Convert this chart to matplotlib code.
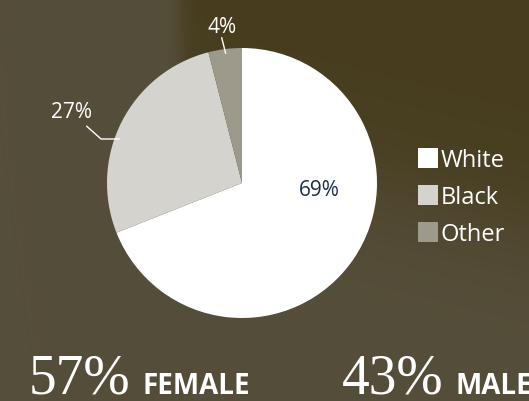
import numpy as np
import matplotlib.pyplot as plt
from matplotlib.lines import Line2D

# --- Data ---
groups = ['White', 'Black', 'Other']
shares = [69, 27, 4]
colors = ['#ffffff', '#d4d3ce', '#9d998b']
gender_pct = [57, 43]
gender_labels = ['FEMALE', 'MALE']

# label layout (pie units, y up)
label_pos = {'White': (0.57, -0.05), 'Black': (-1.26, 0.53), 'Other': (-0.15, 1.16)}

W, H = 529, 402
fig = plt.figure(figsize=(W / 100, H / 100), dpi=100)

# --- Background: olive texture, darker patch top-right ---
yy, xx = np.mgrid[0:H, 0:W]
base = np.array([85, 78, 58]) / 255
dark = np.array([71, 61, 30]) / 255
mask = 1 / (1 + np.exp(-(xx - 180) / 5))
mask *= 1 / (1 + np.exp((yy - 140 - 0.25 * (xx - 180)) / 35))
bg = base[None, None, :] * (1 - mask[..., None]) + dark[None, None, :] * mask[..., None]
bax = fig.add_axes([0, 0, 1, 1])
bax.imshow(bg, aspect='auto', extent=(0, W, H, 0))
bax.axis('off')

# --- Pie ---
R = 135
cx, cy = 242, 184
half = 200
ax = fig.add_axes([(cx - half) / W, (H - cy - half) / H, 2 * half / W, 2 * half / H])
wedges, _ = ax.pie(shares, colors=colors, startangle=90, counterclock=False,
                   wedgeprops=dict(linewidth=0))
lim = half / R
ax.set_xlim(-lim, lim)
ax.set_ylim(-lim, lim)
ax.axis('off')

lab_font = dict(family='Open Sans', fontsize=15)
for g, v, w in zip(groups, shares, wedges):
    tx, ty = label_pos[g]
    col = '#1b2d4f' if g == 'White' else 'white'
    ax.text(tx, ty, f'{v}%', color=col, ha='center', va='center', **lab_font)
    if g == 'Other':
        ang = np.deg2rad((w.theta1 + w.theta2) / 2)
        ex, ey = 0.97 * np.cos(ang), 0.97 * np.sin(ang)
        ax.plot([tx, ex], [ty - 0.085, ey], color='white', lw=1, clip_on=False)
    elif g == 'Black':
        ex, ey = -0.91, 0.326
        ax.plot([tx + 0.11, -1.044, ex], [ty - 0.11, ey, ey], color='white', lw=1,
                clip_on=False)

# --- Legend ---
handles = [Line2D([], [], marker='s', ls='', markersize=14.5, markerfacecolor=c,
                  markeredgewidth=0) for c in colors]
leg = fig.legend(handles, groups, loc='upper left', bbox_to_anchor=(404 / W, 1 - 137 / H),
                 frameon=False, handletextpad=0.05, labelspacing=0.55, borderpad=0,
                 prop=dict(family='Open Sans', size=17), handlelength=1.0)
for t in leg.get_texts():
    t.set_color('white')

# --- Gender split ---
xs = [29, 342]
for x, p, lab in zip(xs, gender_pct, gender_labels):
    t = fig.text(x / W, 1 - 394 / H, f'{p}%', family='Liberation Serif', fontsize=40,
                 color='white', ha='left', va='baseline')
    fig.canvas.draw()
    bb = t.get_window_extent()
    fig.text((bb.x1 + 12) / W, 1 - 394 / H, lab, family='Open Sans', weight='bold',
             fontsize=20, color='white', ha='left', va='baseline')

fig.savefig('out.png', dpi=100)
